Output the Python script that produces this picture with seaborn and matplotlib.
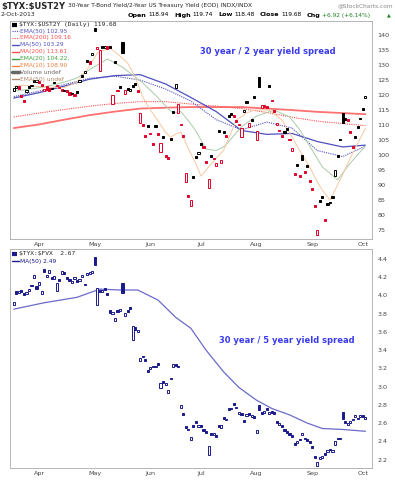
import numpy as np
import pandas as pd
import matplotlib
matplotlib.use("Agg")
import matplotlib.pyplot as plt
from matplotlib.lines import Line2D
import seaborn as sns

# trading days on the chart (Mar 15 .. Oct 2, 2013)
days = pd.bdate_range("2013-03-15", "2013-10-02")
holidays = pd.to_datetime(["2013-03-29", "2013-05-27", "2013-07-04", "2013-09-02"])
days = days[~days.isin(holidays)]

# $TYX:$UST2Y daily candles
ust2y_open = [121.5, 122.5, 123.0, 120.0, 118.5, 121.0, 123.0, 123.0, 125.0, 124.5,
              124.8, 123.8, 121.5, 123.0, 122.5, 122.0, 124.5, 123.5, 122.8, 122.0,
              121.3, 121.7, 121.0, 120.8, 120.3, 121.2, 124.3, 126.8, 127.5, 131.8,
              131.5, 133.5, 142.2, 135.5, 128.0, 136.3, 135.7, 136.3, 136.3, 117.0,
              131.2, 121.8, 123.0, 137.7, 120.5, 122.3, 121.5, 123.3, 124.0, 121.6,
              110.7, 110.3, 106.7, 110.0, 107.5, 104.0, 110.0, 107.3, 101.0, 106.3,
              100.0, 99.5, 105.6, 114.7, 122.5, 114.0, 110.5, 106.7, 91.0, 86.7,
              83.0, 93.0, 99.6, 100.5, 104.0, 103.0, 98.0, 89.0, 100.0, 98.6,
              96.5, 108.3, 97.5, 108.0, 106.6, 113.4, 114.0, 113.3, 111.6, 110.5,
              106.0, 114.5, 118.0, 109.5, 112.0, 119.6, 105.0, 126.0, 115.8, 116.6,
              116.4, 123.3, 118.5, 115.0, 110.0, 108.5, 106.6, 108.0, 109.0, 105.5,
              101.2, 94.0, 97.0, 93.4, 100.0, 94.7, 96.7, 91.7, 89.0, 83.4,
              73.5, 85.0, 86.3, 78.7, 84.0, 84.5, 86.3, 93.0, 100.0, 105.5,
              114.0, 112.3, 112.0, 108.0, 103.0, 106.3, 109.6, 112.5, 115.6, 118.94]
ust2y_close = [122.3, 123.0, 122.0, 119.5, 117.7, 121.7, 122.5, 123.5, 124.3, 125.0,
               124.0, 123.0, 122.0, 121.7, 121.2, 122.5, 124.0, 123.0, 122.2, 121.5,
               121.8, 121.0, 120.0, 120.3, 119.8, 120.7, 125.0, 126.0, 128.0, 131.0,
               130.5, 134.0, 141.5, 136.0, 135.0, 135.7, 136.2, 135.5, 135.7, 120.0,
               130.7, 121.3, 122.3, 134.0, 121.7, 121.7, 122.0, 122.7, 123.3, 121.0,
               114.0, 109.7, 106.0, 109.3, 107.0, 103.3, 109.3, 106.7, 104.0, 105.7,
               99.3, 98.7, 105.0, 114.0, 123.7, 117.0, 110.0, 106.0, 94.0, 86.0,
               85.0, 92.3, 99.0, 101.0, 103.3, 102.3, 97.3, 92.0, 99.3, 99.0,
               97.3, 107.7, 98.3, 107.3, 106.0, 112.7, 113.5, 112.7, 111.0, 110.0,
               109.0, 115.0, 117.3, 110.7, 111.3, 119.0, 108.0, 122.7, 116.7, 116.0,
               115.8, 122.7, 118.0, 114.3, 110.7, 108.0, 106.0, 107.3, 108.3, 105.0,
               102.3, 93.3, 96.3, 92.7, 98.3, 94.0, 96.0, 91.0, 88.3, 82.7,
               75.0, 84.3, 85.7, 78.0, 83.3, 84.0, 85.7, 95.0, 99.3, 105.0,
               110.7, 111.7, 111.5, 107.3, 102.3, 105.7, 109.0, 112.0, 115.0, 119.68]

# overlays (trading-day index, value)
ma_idx = [0, 10, 20, 30, 40, 50, 60, 70, 80, 90, 100, 110, 120, 130, 139]
ma50 = [119.0, 120.8, 123.0, 125.3, 126.5, 126.8, 123.7, 119.2, 114.5, 108.2, 106.9, 107.2, 104.5, 102.7, 103.3]
ema50 = [119.5, 121.3, 123.5, 125.6, 126.3, 125.0, 122.0, 118.0, 111.8, 108.4, 111.0, 109.0, 101.5, 99.5, 102.95]
ma200 = [109.0, 110.2, 111.8, 113.3, 114.5, 115.5, 115.8, 116.0, 116.0, 116.0, 115.5, 115.0, 114.4, 114.0, 113.6]
ema200 = [112.7, 114.0, 115.2, 116.3, 117.2, 117.8, 117.8, 117.0, 116.3, 115.5, 114.2, 112.6, 111.3, 110.5, 109.8]
ema20_idx = [0, 4, 12, 20, 25, 30, 37, 43, 51, 56, 61, 63, 66, 69, 72, 76, 80, 83, 86, 90,
             96, 103, 109, 113, 117, 122, 128, 133, 139]
ema20 = [121.5, 121.7, 122.7, 124.3, 125.7, 128.5, 132.0, 129.3, 124.0, 120.0, 115.5, 114.0, 114.5,
         111.5, 108.0, 102.0, 101.5, 102.7, 105.5, 109.5, 113.0, 115.0, 112.7, 108.5, 103.0, 96.0,
         91.7, 97.3, 103.0]
ema10_idx = [0, 3, 12, 20, 25, 29, 33, 38, 42, 45, 48, 51, 54, 57, 60, 62, 64, 66, 68, 70,
             72, 74, 78, 83, 88, 92, 95, 101, 106, 110, 113, 117, 120, 122, 125, 129, 134, 139]
ema10 = [122.8, 123.3, 122.7, 122.5, 124.3, 128.5, 134.0, 135.7, 133.0, 130.7, 126.0, 119.3, 115.0,
         111.5, 107.5, 106.0, 107.0, 107.7, 104.0, 100.5, 97.0, 93.0, 97.0, 101.7, 111.7, 114.0,
         115.0, 115.0, 111.7, 106.0, 101.5, 96.0, 91.0, 88.3, 85.0, 91.7, 100.7, 108.9]

# $TYX:$FVX daily candles
fvx_open = [3.90, 4.05, 4.03, 4.06, 4.03, 4.02, 4.05, 4.12, 4.19, 4.10,
            4.12, 4.02, 4.29, 4.20, 4.25, 4.20, 4.18, 4.05, 4.18, 4.24,
            4.26, 4.20, 4.18, 4.14, 4.18, 4.17, 4.16, 4.20, 4.13, 4.22,
            4.24, 4.25, 4.42, 3.90, 4.06, 4.04, 4.08, 4.03, 3.84, 3.80,
            3.72, 3.84, 3.83, 4.14, 3.78, 3.84, 3.87, 3.51, 3.65, 3.60,
            3.28, 3.34, 3.30, 3.18, 3.19, 3.23, 3.21, 3.26, 2.99, 3.06,
            3.02, 2.93, 3.10, 3.22, 3.25, 3.23, 2.76, 2.71, 2.57, 2.52,
            2.41, 2.58, 2.62, 2.56, 2.58, 2.53, 2.51, 2.25, 2.49, 2.47,
            2.47, 2.58, 2.55, 2.67, 2.63, 2.76, 2.75, 2.82, 2.78, 2.70,
            2.71, 2.63, 2.68, 2.71, 2.67, 2.68, 2.49, 2.80, 2.72, 2.71,
            2.76, 2.70, 2.73, 2.72, 2.62, 2.58, 2.58, 2.53, 2.51, 2.49,
            2.47, 2.38, 2.38, 2.43, 2.47, 2.44, 2.42, 2.40, 2.35, 2.24,
            2.13, 2.21, 2.22, 2.27, 2.28, 2.32, 2.28, 2.36, 2.44, 2.42,
            2.72, 2.62, 2.58, 2.60, 2.63, 2.67, 2.66, 2.67, 2.69, 2.65]
fvx_close = [3.93, 4.02, 4.05, 4.04, 4.01, 4.04, 4.07, 4.10, 4.22, 4.07,
             4.15, 4.05, 4.26, 4.22, 4.28, 4.18, 4.21, 4.14, 4.16, 4.27,
             4.24, 4.18, 4.16, 4.16, 4.20, 4.15, 4.18, 4.22, 4.11, 4.25,
             4.26, 4.27, 4.33, 4.08, 4.04, 4.06, 4.06, 4.01, 3.81, 3.82,
             3.75, 3.82, 3.85, 4.03, 3.81, 3.82, 3.85, 3.66, 3.62, 3.62,
             3.31, 3.32, 3.28, 3.16, 3.21, 3.21, 3.23, 3.24, 3.04, 3.04,
             3.04, 2.96, 3.08, 3.25, 3.23, 3.21, 2.80, 2.69, 2.55, 2.54,
             2.45, 2.56, 2.60, 2.58, 2.56, 2.51, 2.49, 2.35, 2.47, 2.49,
             2.45, 2.56, 2.58, 2.65, 2.65, 2.74, 2.77, 2.80, 2.76, 2.72,
             2.69, 2.61, 2.70, 2.69, 2.69, 2.66, 2.52, 2.74, 2.70, 2.73,
             2.74, 2.72, 2.71, 2.70, 2.60, 2.60, 2.56, 2.51, 2.49, 2.47,
             2.45, 2.36, 2.40, 2.41, 2.49, 2.42, 2.40, 2.38, 2.33, 2.22,
             2.17, 2.23, 2.24, 2.25, 2.30, 2.30, 2.30, 2.40, 2.42, 2.44,
             2.65, 2.60, 2.60, 2.62, 2.65, 2.69, 2.64, 2.69, 2.67, 2.67]
fvx_ma_idx = [0, 12, 25, 34, 42, 49, 57, 64, 70, 76, 83, 89, 96, 102, 109, 116, 122, 130, 139]
fvx_ma50 = [3.85, 3.92, 3.98, 4.07, 4.06, 4.06, 3.95, 3.76, 3.64, 3.40, 3.16, 2.99, 2.85, 2.76,
            2.69, 2.60, 2.54, 2.53, 2.51]

RED = "#e0002a"
NAVY = "#1a1a8c"
BLUE_MA = "#5050c0"


def candles(ax, opens, closes, up_col, down_col):
    o = np.array(opens)
    c = np.array(closes)
    prev = np.r_[c[0], c[:-1]]
    x = np.arange(len(c))
    col = np.where(c < prev, down_col, up_col)
    face = np.where(c > o, "white", col)
    ax.bar(x, c - o, bottom=o, width=0.85, color=face, edgecolor=col, linewidth=0.7, zorder=3)


def style_axis(ax, ymin, ymax, yticks, fmt):
    ax.set_xlim(-1.5, 141.6)
    ax.set_ylim(ymin, ymax)
    ax.yaxis.tick_right()
    ax.set_yticks(yticks)
    ax.set_yticklabels([fmt.format(v) for v in yticks])
    ax.tick_params(axis="y", length=0, pad=4, labelsize=4.6, labelcolor="#444444")
    ax.tick_params(axis="x", length=0, pad=2, labelsize=4.6, labelcolor="#444444")
    month_pos = [np.where(days.month == m)[0][0] for m in range(4, 11)]
    ax.set_xticks(month_pos)
    ax.set_xticklabels([days[p].strftime("%b") for p in month_pos])
    for s in ax.spines.values():
        s.set_color("#aaaaaa")
        s.set_linewidth(0.6)
    ax.set_xlabel("")
    ax.set_ylabel("")


sns.set_style("white")
plt.rcParams["font.family"] = ["DejaVu Sans"]

fig = plt.figure(figsize=(3.95, 4.8), dpi=100)
ax1 = fig.add_axes([10 / 395, 1 - 239 / 480, 362 / 395, 218 / 480])
ax2 = fig.add_axes([10 / 395, 1 - 468 / 480, 362 / 395, 219 / 480])

# top panel
sns.lineplot(x=ma_idx, y=ma200, ax=ax1, color="#ff7070", lw=1.3, zorder=2)
sns.lineplot(x=ma_idx, y=ema200, ax=ax1, color="#ff5050", lw=0.8, linestyle=(0, (1, 1)), zorder=2)
sns.lineplot(x=ma_idx, y=ma50, ax=ax1, color=BLUE_MA, lw=0.9, zorder=2)
sns.lineplot(x=ma_idx, y=ema50, ax=ax1, color=BLUE_MA, lw=0.8, linestyle=(0, (1, 1)), zorder=2)
sns.lineplot(x=ema20_idx, y=ema20, ax=ax1, color="#a8cca8", lw=0.7, zorder=2)
sns.lineplot(x=ema10_idx, y=ema10, ax=ax1, color="#f8c8a0", lw=0.7, zorder=2)
candles(ax1, ust2y_open, ust2y_close, "black", RED)
style_axis(ax1, 72, 144.7, list(range(75, 145, 5)), "{:d}")
ax1.text(0.713, 0.862, "30 year / 2 year yield spread", transform=ax1.transAxes,
         ha="center", va="center", color="#3a3af0", fontsize=6, fontweight="bold")

# bottom panel
sns.lineplot(x=fvx_ma_idx, y=fvx_ma50, ax=ax2, color="#6a6ac8", lw=0.9, zorder=2)
candles(ax2, fvx_open, fvx_close, NAVY, NAVY)
style_axis(ax2, 2.107, 4.51, [round(2.2 + 0.2 * i, 1) for i in range(12)], "{:.1f}")
ax2.text(0.765, 0.584, "30 year / 5 year yield spread", transform=ax2.transAxes,
         ha="center", va="center", color="#3a3af0", fontsize=6, fontweight="bold")


def fy(py):
    return 1 - py / 480


def fx(px):
    return px / 395


renderer = fig.canvas.get_renderer()

# header
title = fig.text(fx(1), fy(6), r"\$TYX:\$UST2Y", fontsize=6.0, fontweight="bold", va="center")
tw = title.get_window_extent(renderer).width
fig.text(fx(1 + tw + 3), fy(6), "30-Year T-Bond Yield/2-Year US Treasury Yield (EOD) INDX/INDX",
         fontsize=4.2, va="center")
fig.text(fx(393), fy(6), "@StockCharts.com", fontsize=4.2, va="center", ha="right", color="#888888")
fig.text(fx(1), fy(15), "2-Oct-2013", fontsize=4.4, va="center")

# quote line, laid out piece by piece from the left
quote = [("Open", True, "black"), ("118.94", False, "black"), ("High", True, "black"),
         ("119.74", False, "black"), ("Low", True, "black"), ("118.48", False, "black"),
         ("Close", True, "black"), ("119.68", False, "black"), ("Chg", True, "black"),
         ("+6.92 (+6.14%)", False, "#208020")]
px = 128
for s, bold, col in quote:
    t = fig.text(fx(px), fy(15), s, fontsize=4.6 if bold else 4.2,
                 fontweight="bold" if bold else "normal", va="center", color=col)
    w = t.get_window_extent(renderer).width
    px += w + (2 if bold else 5)
fig.text(fx(391), fy(15), "\u25b2", fontsize=3.5, va="center", ha="right", color="#208020")

# legends
fig.text(fx(19), fy(24.5), r"\$TYX:\$UST2Y (Daily) 119.68", fontsize=4.5, va="center",
         family="DejaVu Sans Mono")
fig.add_artist(Line2D([fx(12), fx(17)], [fy(24.5), fy(24.5)], color="black", lw=3, solid_capstyle="butt"))
legend_rows = [
    ("EMA(50) 102.95", BLUE_MA, (0, (1, 1)), 0.8),
    ("EMA(200) 109.16", "#ff5050", (0, (1, 1)), 0.8),
    ("MA(50) 103.29", BLUE_MA, "-", 1.0),
    ("MA(200) 113.61", "#ff5050", "-", 1.0),
    ("EMA(20) 104.22,", "#40a040", "-", 1.0),
    ("EMA(10) 108.90", "#f08040", "-", 1.0),
    ("Volume undef", "#666666", "-", 2.5),
    ("EMA(50) undef", "#b08868", "-", 1.0),
]
for i, (lab, col, ls, lw) in enumerate(legend_rows):
    py = 31 + i * 6.9
    fig.add_artist(Line2D([fx(12), fx(19)], [fy(py), fy(py)], color=col, lw=lw, linestyle=ls))
    fig.text(fx(20), fy(py), lab, fontsize=4.2, va="center", color=col)

fig.text(fx(19), fy(254), r"\$TYX:\$FVX  2.67", fontsize=4.5, va="center", family="DejaVu Sans Mono")
fig.add_artist(Line2D([fx(12), fx(17)], [fy(254), fy(254)], color=NAVY, lw=3, solid_capstyle="butt"))
fig.add_artist(Line2D([fx(12), fx(19)], [fy(261), fy(261)], color=NAVY, lw=1.0))
fig.text(fx(20), fy(261), "MA(50) 2.49", fontsize=4.2, va="center", color=NAVY)

fig.savefig("out.png", dpi=100)
